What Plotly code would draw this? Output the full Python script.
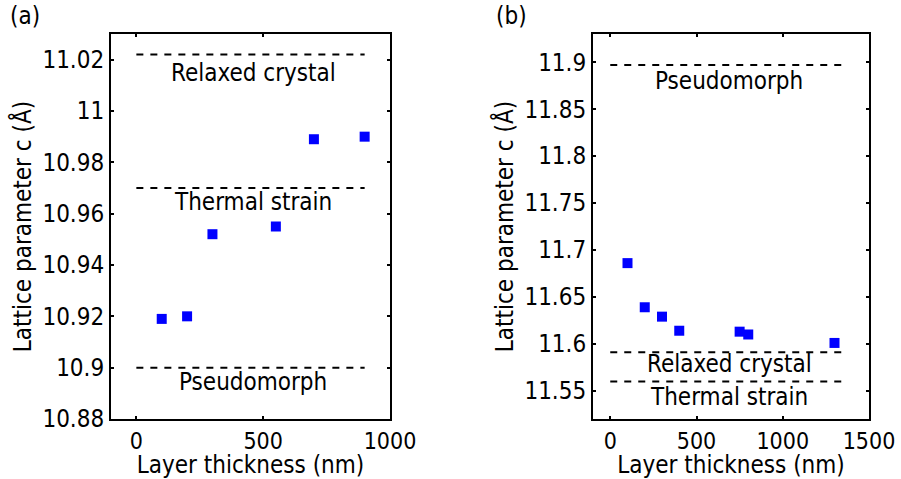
import plotly.graph_objects as go

# ---- data ----
thick_a = [100, 200, 300, 550, 700, 900]
lat_a = [10.919, 10.920, 10.952, 10.955, 10.989, 10.990]
thick_b = [100, 200, 300, 400, 750, 800, 1300]
lat_b = [11.686, 11.639, 11.629, 11.614, 11.613, 11.610, 11.601]

ref_names_a = ["Relaxed crystal", "Thermal strain", "Pseudomorph"]
ref_vals_a = [11.022, 10.970, 10.900]
ref_names_b = ["Pseudomorph", "Relaxed crystal", "Thermal strain"]
ref_vals_b = [11.897, 11.591, 11.560]
ref_span_a = [0, 900]
ref_span_b = [0, 1350]

yticks_a = [10.88, 10.9, 10.92, 10.94, 10.96, 10.98, 11.0, 11.02]
ytext_a = ["10.88", "10.9", "10.92", "10.94", "10.96", "10.98", "11", "11.02"]
yticks_b = [11.55, 11.6, 11.65, 11.7, 11.75, 11.8, 11.85, 11.9]
ytext_b = ["11.55", "11.6", "11.65", "11.7", "11.75", "11.8", "11.85", "11.9"]
xticks_a = [0, 500, 1000]
xticks_b = [0, 500, 1000, 1500]

x_title = "Layer thickness (nm)"
y_title = "Lattice parameter c (Å)"

# label placement (text centre in data coords)
lab_x_a = 460
lab_y_a = [11.0150, 10.9645, 10.8946]
lab_x_b = 690
lab_y_b = [11.8796, 11.5784, 11.5433]

FONT = "DejaVu Sans Condensed, DejaVu Sans"
FS = 24
W, H = 901, 479
fig = go.Figure()

def add_panel(xs, ys, vals, span, xa, ya):
    for v in vals:
        fig.add_trace(go.Scatter(x=span, y=[v, v], mode="lines",
                                 line=dict(color="black", width=2, dash="7px,7px"),
                                 xaxis=xa, yaxis=ya, showlegend=False, hoverinfo="skip"))
    fig.add_trace(go.Scatter(x=xs, y=ys, mode="markers",
                             marker=dict(symbol="square", size=10, color="#0000FF",
                                         line=dict(width=0)),
                             xaxis=xa, yaxis=ya, showlegend=False))

add_panel(thick_a, lat_a, ref_vals_a, ref_span_a, "x", "y")
add_panel(thick_b, lat_b, ref_vals_b, ref_span_b, "x2", "y2")

tfont = dict(size=FS, color="black", family=FONT)
xtfont = dict(size=23, color="black", family=FONT)
annotations = []
for n, y in zip(ref_names_a, lab_y_a):
    annotations.append(dict(x=lab_x_a, y=y, xref="x", yref="y", text=n, showarrow=False,
                            font=tfont, yanchor="middle"))
for n, y in zip(ref_names_b, lab_y_b):
    annotations.append(dict(x=lab_x_b, y=y, xref="x2", yref="y2", text=n, showarrow=False,
                            font=tfont, yanchor="middle"))
annotations.append(dict(x=8 / W, y=1 - 16 / H, xref="paper", yref="paper", text="(a)",
                        showarrow=False, xanchor="left", yanchor="middle", font=tfont))
annotations.append(dict(x=494 / W, y=1 - 16 / H, xref="paper", yref="paper", text="(b)",
                        showarrow=False, xanchor="left", yanchor="middle", font=tfont))

axis_common = dict(showline=True, linecolor="black", linewidth=2, mirror="allticks",
                   ticks="inside", ticklen=3, tickwidth=1.5, tickcolor="black",
                   showgrid=False, zeroline=False, automargin=False)

fig.update_layout(
    width=W, height=H, margin=dict(l=0, r=0, t=0, b=0),
    plot_bgcolor="white", paper_bgcolor="white",
    annotations=annotations,
    xaxis=dict(domain=[111 / W, 390 / W], range=[-100, 1000], tickvals=xticks_a,
               tickfont=xtfont,
               title=dict(text=x_title, font=tfont, standoff=0),
               anchor="y", **axis_common),
    yaxis=dict(domain=[1 - 419 / H, 1 - 34 / H], range=[10.88, 11.03], tickvals=yticks_a,
               ticktext=ytext_a, tickfont=tfont,
               title=dict(text=y_title, font=tfont, standoff=4),
               anchor="x", **axis_common),
    xaxis2=dict(domain=[593 / W, 869 / W], range=[-100, 1500], tickvals=xticks_b,
                tickfont=xtfont,
                title=dict(text=x_title, font=tfont, standoff=0),
                anchor="y2", **axis_common),
    yaxis2=dict(domain=[1 - 419 / H, 1 - 34 / H], range=[11.52, 11.93], tickvals=yticks_b,
                ticktext=ytext_b, tickfont=tfont,
                title=dict(text=y_title, font=tfont, standoff=4),
                anchor="x2", **axis_common),
)

fig.write_html("out.html")
